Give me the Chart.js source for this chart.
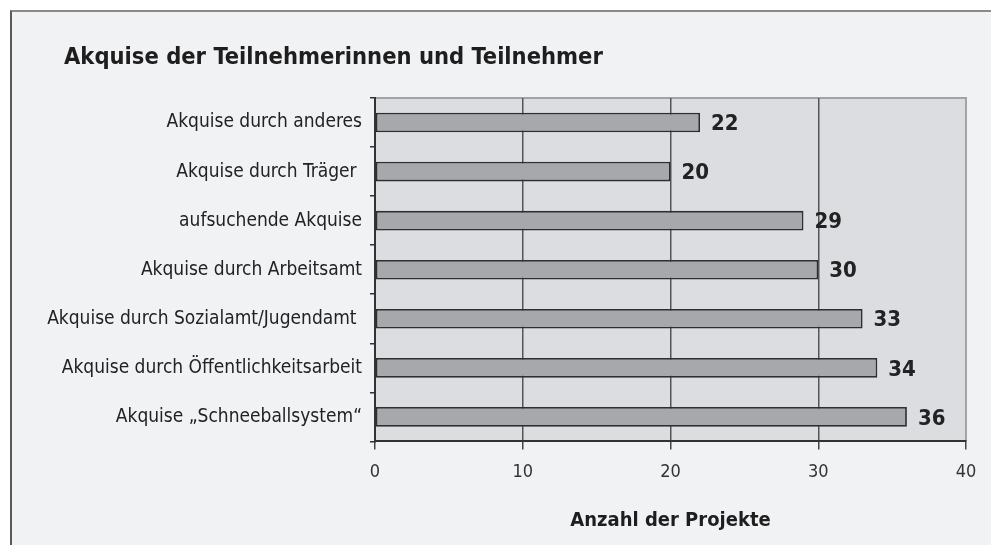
<!DOCTYPE html>
<html>
<head>
<meta charset="utf-8">
<script src="https://cdn.jsdelivr.net/npm/chart.js@4"></script>
<style>
  html, body { margin:0; padding:0; background:#fff; }
  #frame { position:absolute; left:10px; top:10px; width:990px; height:545px;
           background:#f1f2f4; border-top:2px solid #8a8a8a; border-left:2px solid #5a5a5a; }
  #wrap { position:absolute; left:0; top:0; width:991px; height:545px; }
</style>
</head>
<body>
<div id="frame"></div>
<div id="wrap"><canvas id="chart" width="991" height="545"></canvas></div>
<script>
const categories = [
  'Akquise durch anderes',
  'Akquise durch Träger ',
  'aufsuchende Akquise',
  'Akquise durch Arbeitsamt',
  'Akquise durch Sozialamt/Jugendamt ',
  'Akquise durch Öffentlichkeitsarbeit',
  'Akquise „Schneeballsystem“'
];
const projectCounts = [22, 20, 29, 30, 33, 34, 36];
const xTicks = [0, 10, 20, 30, 40];
const chartTitle = 'Akquise der Teilnehmerinnen und Teilnehmer';

const FONT = '"Liberation Sans Narrow", "DejaVu Sans Condensed", "Roboto Condensed", sans-serif';

// plot background + light top/right border, plus the title at the top left
const plotBg = {
  id: 'plotBg',
  beforeDraw(chart){
    const {ctx, chartArea:a} = chart;
    ctx.save();
    ctx.fillStyle = '#dcdde0';
    ctx.fillRect(a.left, a.top, a.right - a.left, a.bottom - a.top);
    ctx.strokeStyle = '#a3a3a3';
    ctx.lineWidth = 2;
    ctx.beginPath();
    ctx.moveTo(a.left, a.top); ctx.lineTo(a.right, a.top); ctx.lineTo(a.right, a.bottom);
    ctx.stroke();
    ctx.font = 'bold 23.5px ' + FONT;
    ctx.fillStyle = '#1e1e1e';
    ctx.textBaseline = 'middle';
    ctx.fillText(chartTitle, 64, 58);
    ctx.restore();
  }
};

// value labels next to bar ends
const valueLabels = {
  id: 'valueLabels',
  afterDatasetsDraw(chart){
    const {ctx} = chart;
    const meta = chart.getDatasetMeta(0);
    ctx.save();
    ctx.font = 'bold 22px ' + FONT;
    ctx.fillStyle = '#222';
    ctx.textBaseline = 'middle';
    meta.data.forEach((bar, i)=>{
      ctx.fillText(String(projectCounts[i]), bar.x + 11, bar.y + 2);
    });
    ctx.restore();
  }
};

new Chart(document.getElementById('chart').getContext('2d'), {
  type: 'bar',
  data: {
    labels: categories,
    datasets: [{
      data: projectCounts,
      backgroundColor: '#a7a8ab',
      borderColor: '#2e2e2e',
      borderWidth: 1.8,
      borderSkipped: false,
      categoryPercentage: 1,
      barPercentage: 0.4
    }]
  },
  options: {
    indexAxis: 'y',
    responsive: false,
    animation: false,
    layout: { padding: { left: 12, right: 25, top: 98, bottom: 12 } },
    plugins: {
      legend: { display: false },
      tooltip: { enabled: false },
      title: { display: false }
    },
    scales: {
      x: {
        min: 0, max: 40,
        afterBuildTicks: s => { s.ticks = xTicks.map(v => ({value: v})); },
        grid: {
          color: c => c.tick && c.tick.value === 40 ? '#a3a3a3' : '#555',
          lineWidth: 1.5,
          tickColor: '#444',
          tickLength: 8
        },
        border: { color: '#333', width: 2 },
        ticks: { color: '#333', font: { family: FONT, size: 18 }, padding: 12 },
        title: {
          display: true,
          text: 'Anzahl der Projekte',
          color: '#1e1e1e',
          font: { family: FONT, size: 20, weight: 'bold' },
          padding: { top: 14, bottom: 0 }
        }
      },
      y: {
        afterFit: s => { s.width = 363; },
        grid: { drawOnChartArea: false, offset: true, tickLength: 5, tickColor: '#333', lineWidth: 1.5 },
        border: { color: '#333', width: 2 },
        ticks: { color: '#222', font: { family: FONT, size: 19 }, padding: 8 }
      }
    }
  },
  plugins: [plotBg, valueLabels]
});
</script>
</body>
</html>
